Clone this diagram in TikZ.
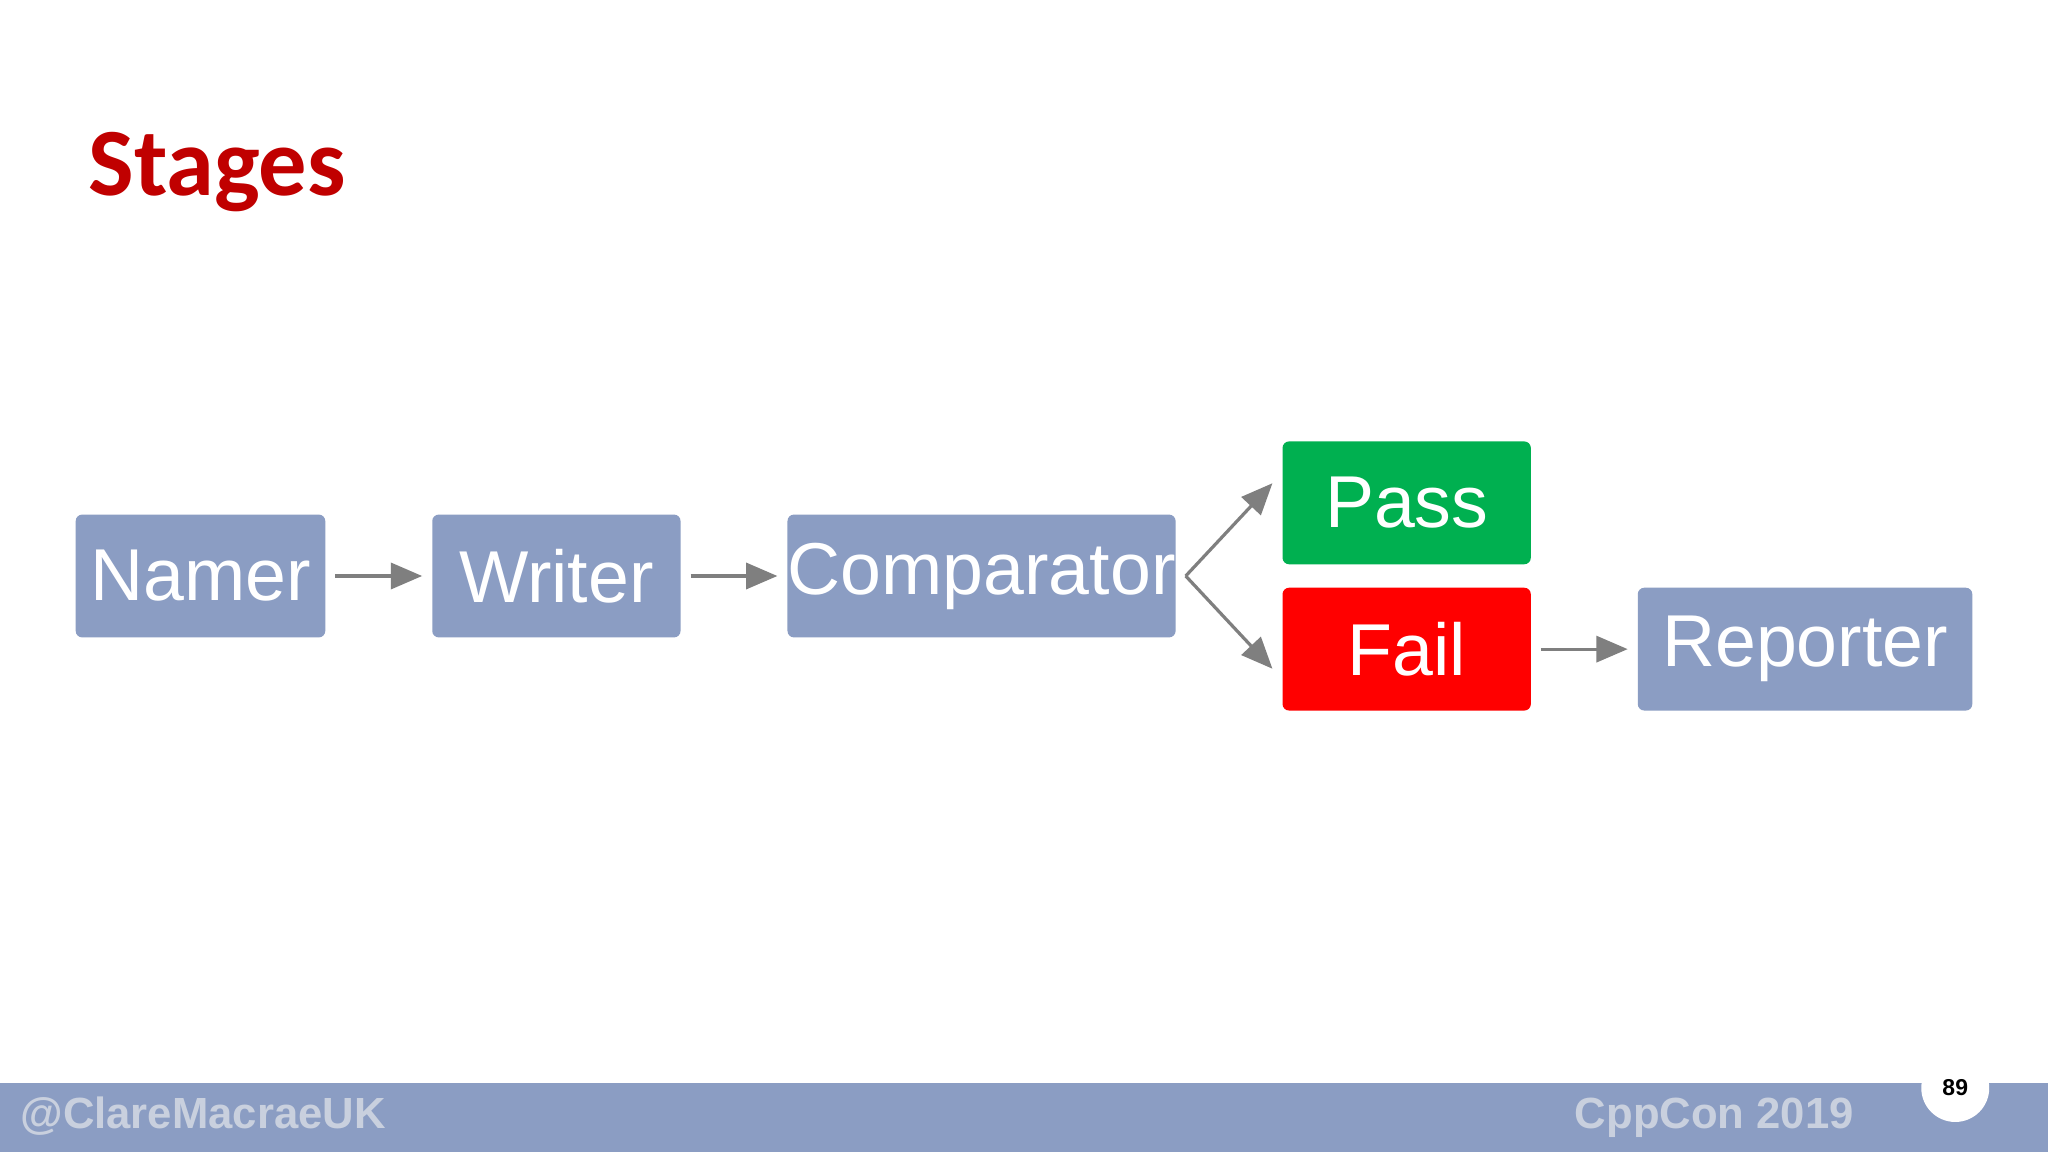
\documentclass[tikz,border=0pt]{standalone}
\usepackage{fontspec}
\setmainfont{Liberation Sans}
\newfontfamily\titlefont{Carlito}
\usetikzlibrary{arrows.meta}
\definecolor{boxblue}{HTML}{8B9DC3}
\definecolor{passgreen}{HTML}{00B050}
\definecolor{titlered}{HTML}{C00000}
\definecolor{arrowgray}{HTML}{7F7F7F}
\definecolor{foottext}{HTML}{C9D0DE}
\tikzset{
  px/.style={x=0.01cm,y=-0.01cm},
  stagebox/.style={fill=boxblue,rounded corners=0.5mm,text=white,font=\fontsize{16}{18}\selectfont,minimum height=0.94cm,inner sep=0pt},
  flow/.style={draw=arrowgray,line width=0.7pt,-{Triangle[length=2.4mm,width=2mm]}}
}
\begin{document}
\begin{tikzpicture}[px]
\useasboundingbox (0,0) rectangle (1568,882);
\fill[white] (0,0) rectangle (1568,882);
\fill[boxblue] (0,829) rectangle (1568,882);
\node[anchor=base west,text=titlered,font=\titlefont\bfseries\fontsize{21}{24}\selectfont,inner sep=0pt] (title) at (67,150) {Stages};
\node[stagebox,minimum width=1.91cm] (namer) at (153.5,441) {Namer};
\node[stagebox,minimum width=1.90cm] (writer) at (426,441) {Writer};
\node[stagebox,minimum width=2.97cm] (comp) at (751.5,441) {Comparator};
\node[stagebox,minimum width=1.90cm,fill=passgreen] (pass) at (1077,385) {Pass};
\node[stagebox,minimum width=1.90cm,fill=red] (fail) at (1077,497) {Fail};
\node[stagebox,minimum width=2.56cm] (rep) at (1382,497) {Reporter};
\draw[flow] ([xshift=2pt]namer.east) -- ([xshift=-2pt]writer.west);
\draw[flow] ([xshift=2pt]writer.east) -- ([xshift=-2pt]comp.west);
\draw[flow] ([xshift=2pt]comp.east) -- ([xshift=-2pt,yshift=1.5mm]pass.west);
\draw[flow] ([xshift=2pt]comp.east) -- ([xshift=-2pt,yshift=-1.5mm]fail.west);
\draw[flow] ([xshift=2pt]fail.east) -- ([xshift=-2pt]rep.west);
\node[anchor=base west,text=foottext,font=\bfseries\fontsize{9.5}{11}\selectfont,inner sep=0pt] (handle) at (15,864) {@ClareMacraeUK};
\node[anchor=base east,text=foottext,font=\bfseries\fontsize{9.5}{11}\selectfont,inner sep=0pt] (conf) at (1420,864) {CppCon 2019};
\node[circle,fill=white,minimum size=0.52cm,inner sep=0pt,font=\bfseries\fontsize{5}{6}\selectfont] (page) at (1497,833) {89};
\end{tikzpicture}
\end{document}
